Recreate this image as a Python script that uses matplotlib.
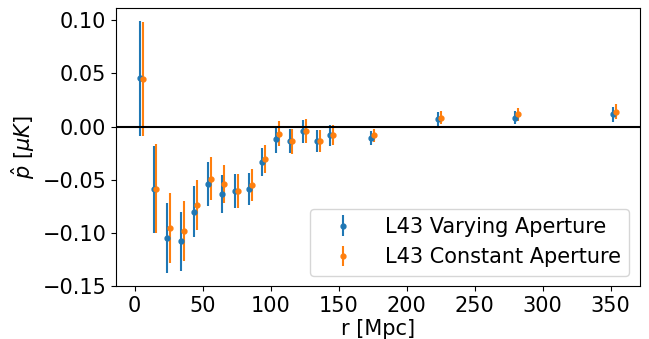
import matplotlib
matplotlib.use("Agg")
import matplotlib.pyplot as plt
import numpy as np

# bin centres in Mpc
r = np.array([5, 15, 25, 35, 45, 55, 65, 75, 85, 95, 105, 115, 125, 135, 145,
              175, 224, 281, 353])

p_varying = [0.0455, -0.0589, -0.105, -0.108, -0.0799, -0.0539, -0.0633, -0.0605,
             -0.0583, -0.0333, -0.0120, -0.0133, -0.0045, -0.0136, -0.0083,
             -0.0108, 0.0070, 0.0083, 0.0117]
err_varying = [0.054, 0.041, 0.033, 0.028, 0.024, 0.021, 0.018, 0.016, 0.015,
               0.0135, 0.0125, 0.0115, 0.011, 0.0103, 0.0095, 0.0067, 0.0065,
               0.006, 0.007]

p_constant = [0.0448, -0.0583, -0.0955, -0.098, -0.0733, -0.0489, -0.0542, -0.0608,
              -0.0548, -0.0305, -0.0067, -0.0139, -0.0042, -0.0133, -0.0080,
              -0.0083, 0.0083, 0.0114, 0.0139]
err_constant = [0.054, 0.042, 0.033, 0.028, 0.0235, 0.020, 0.018, 0.016, 0.015,
                0.013, 0.012, 0.0115, 0.011, 0.0105, 0.0095, 0.0065, 0.0063,
                0.006, 0.007]

plt.rcParams['font.size'] = 15

fig = plt.figure(figsize=(6.49, 3.39), dpi=100)
ax = fig.add_subplot(111)
fig.subplots_adjust(left=0.179, right=0.986, top=0.976, bottom=0.156)

ax.errorbar(r - 1, p_varying, yerr=err_varying, fmt='o', markersize=3.5,
            color='tab:blue', label='L43 Varying Aperture')
ax.errorbar(r + 1, p_constant, yerr=err_constant, fmt='o', markersize=3.5,
            color='tab:orange', label='L43 Constant Aperture')
ax.axhline(0, color='black', linewidth=1.5)

ax.set_xlabel('r [Mpc]', labelpad=2)
ax.set_ylabel(r'$\hat{p}\ [\mu K]$')
ax.set_yticks([-0.15, -0.10, -0.05, 0.00, 0.05, 0.10])
ax.legend(loc='lower right', handlelength=2.4)

fig.savefig('out.png', dpi=100)
